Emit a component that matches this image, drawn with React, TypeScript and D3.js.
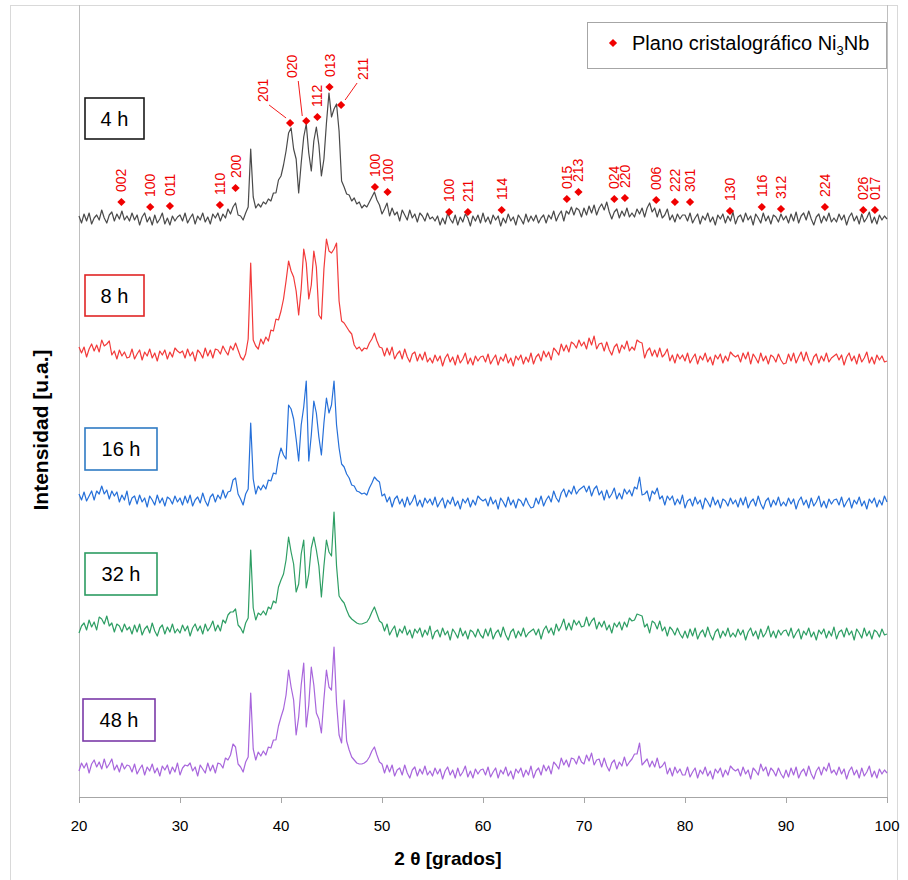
import React from 'react';
import * as d3 from 'd3';

// 2θ grid of the diffractograms (degrees)
const THETA_START = 20;
const THETA_STEP = 0.25;

const SERIES_LABELS = ['4 h', '8 h', '16 h', '32 h', '48 h'];
const SERIES_COLORS = ['#4a4a4a', '#f23a3a', '#2670d9', '#2e9e64', '#a866dc'];
const BOX_COLORS = ['#1a1a1a', '#e02525', '#2f7bc4', '#2c9c62', '#7b3aa8'];
// vertical stacking offset of each pattern (a.u.)
const SERIES_OFFSETS = [576, 436, 292, 161, 22];

// intensity above each pattern's base line, one value every 0.25° from 20° to 100°
const I_4H = [
  5, -2, 7, 0, 8, -3, 3, 6, 1, 11, 3, -2, 6, 9, 0, 7, 2, 10, 1, 5,
  0, 8, 1, 6, -4, 4, 8, -1, 4, -4, 6, -2, 2, 8, -3, 3, -4, 5, 0, 4,
  6, 0, 8, -2, 3, 7, -3, 5, 1, 8, -1, 4, -3, 7, 3, 8, 0, 7, 3, 12,
  7, 14, 18, 6, 5, 1, 8, 14, 72, 24, 13, 17, 14, 19, 17, 22, 20, 28, 28, 41,
  45, 56, 70, 88, 93, 72, 62, 28, 58, 84, 97, 68, 50, 80, 94, 76, 45, 62, 98, 128,
  104, 112, 117, 90, 40, 34, 27, 26, 20, 23, 17, 19, 13, 16, 14, 19, 24, 29, 21, 16,
  7, 12, 18, 5, 13, 6, 9, 0, 11, 6, 1, 11, 3, 7, -1, 8, 5, 0, 8, 2,
  4, 0, 5, -4, 3, -3, 8, 2, -2, 6, -4, 4, -1, 7, 3, -5, 5, 0, 6, -2,
  8, -1, 4, -3, 6, 1, 5, -5, 3, -2, 7, 0, 4, -4, 6, 2, -3, 7, -1, 5,
  0, 6, -2, 3, 6, -2, 6, 2, 10, 0, 6, 10, 0, 10, 7, 14, 6, 13, 11, 4,
  13, 6, 15, 8, 16, 6, 13, 17, 11, 19, 9, 2, 9, 12, 3, 10, 5, 13, 4, 8,
  4, 12, 7, 13, 4, 13, 18, 9, 13, 4, 12, 3, 6, 12, 1, 6, -1, 7, 2, 6,
  6, 0, 8, -2, 3, 7, -3, 5, 1, 8, -1, 4, -4, 6, 2, 7, -2, 5, 0, 9,
  -3, 4, 6, -1, 8, 1, 5, -4, 7, 3, -2, 8, 0, 5, -3, 6, 4, -1, 7, 1,
  5, -2, 7, 0, 9, -2, 5, 8, 1, 10, 2, -4, 4, 7, -2, 5, 0, 8, -1, 3,
  -1, 7, 1, 6, -4, 4, 8, 0, 5, -3, 7, -1, 3, 9, -2, 4, -3, 6, 1, 5,
  2,
];

const I_8H = [
  14, 8, 14, 4, 12, 17, 10, 16, 9, 21, 15, 17, 20, 6, 10, 2, 11, 5, 9, 3,
  4, 12, 2, 7, 11, 1, 9, 5, 12, 3, 8, 0, 10, 6, 11, 2, 9, 4, 13, 10,
  8, 10, 3, 12, 5, 9, 0, 11, 8, 3, 13, 5, 11, 3, 12, 11, 7, 15, 10, 6,
  15, 11, 18, 11, 4, 1, 7, 22, 98, 21, 15, 12, 22, 17, 24, 20, 31, 30, 42, 41,
  50, 62, 80, 100, 90, 84, 70, 46, 72, 112, 98, 62, 76, 110, 94, 46, 42, 92, 122, 110,
  108, 112, 118, 60, 40, 38, 34, 30, 27, 16, 12, 14, 10, 13, 12, 18, 22, 28, 20, 14,
  13, 5, 13, 6, 14, 2, 7, 10, 2, 12, 4, -1, 7, 9, 0, 7, 1, 9, -1, 3,
  -2, 6, 0, 5, -5, 3, 7, -1, 4, -4, 6, -2, 2, 8, -3, 3, -4, 5, 0, 4,
  5, -1, 7, -3, 2, 6, -4, 4, 0, 7, -2, 3, -5, 5, 1, 6, -3, 4, -1, 8,
  -3, 4, 7, 0, 10, 4, 9, 1, 13, 10, 6, 17, 10, 16, 9, 19, 17, 13, 21, 15,
  19, 12, 23, 16, 25, 12, 17, 18, 10, 19, 11, 6, 14, 17, 8, 16, 12, 20, 10, 14,
  11, 21, 19, 18, 3, 10, 13, 5, 11, 4, 13, 4, 7, 12, 0, 6, -2, 7, 2, 6,
  0, 8, -2, 3, 7, -3, 5, 1, 8, -1, 4, -4, 6, 2, 7, -2, 5, 0, 9, 6,
  4, 6, -1, 8, 2, 9, -3, 7, 3, -2, 8, 0, 5, -3, 6, 4, -1, 7, 1, -3,
  -2, 7, 0, 8, -2, 4, 9, 0, 9, 1, -4, 4, 7, -2, 5, 0, 8, -1, 3, 5,
  7, 1, 6, -4, 4, 8, 0, 5, -3, 7, -1, 3, 9, -2, 4, -3, 6, 1, 5, -1,
  0,
];

const I_16H = [
  11, 5, 13, 4, 9, 14, 5, 14, 11, 19, 11, 15, 6, 14, 9, 13, 3, 10, 5, 14,
  0, 7, 9, 1, 10, 3, 7, -2, 9, 5, 0, 10, 2, 7, -1, 8, 6, 1, 9, 3,
  7, 0, 9, 2, 10, -1, 5, 8, 2, 12, 4, -1, 8, 11, 3, 10, 6, 15, 7, 13,
  14, 25, 27, 11, 6, 0, 11, 16, 82, 26, 11, 19, 15, 20, 16, 25, 24, 32, 31, 47,
  57, 50, 46, 100, 96, 86, 66, 44, 80, 98, 124, 44, 70, 104, 92, 68, 50, 82, 107, 92,
  100, 124, 80, 57, 41, 38, 31, 27, 20, 19, 14, 13, 11, 12, 10, 17, 22, 28, 25, 23,
  9, 11, 3, 8, -2, 6, 9, 1, 6, -2, 8, 0, 4, 10, -1, 5, -2, 7, 2, 6,
  0, 8, -2, 3, 7, -3, 5, 1, 8, -1, 4, -4, 6, 2, 7, -2, 5, 0, 9, 6,
  4, 6, -1, 8, 1, 5, -4, 7, 3, -2, 8, 0, 5, -3, 6, 4, -1, 7, 1, -3,
  -2, 7, 1, 9, -1, 5, 9, 3, 14, 7, 3, 12, 16, 8, 15, 11, 19, 11, 15, 17,
  19, 13, 19, 9, 16, 19, 10, 14, 5, 15, 7, 11, 17, 6, 12, 6, 16, 11, 15, 9,
  18, 16, 28, 10, 11, 14, 4, 14, 11, 17, 6, 9, 0, 9, 5, 9, 0, 6, 1, 10,
  -3, 4, 6, -1, 8, 1, 5, -4, 7, 3, -2, 8, 0, 5, -3, 6, 4, -1, 7, 1,
  5, -2, 7, 0, 8, -3, 3, 6, -1, 9, 1, -4, 4, 7, -2, 5, 0, 8, -1, 3,
  -1, 7, 1, 6, -4, 4, 8, 0, 5, -3, 7, -1, 3, 9, -2, 4, -3, 6, 1, 5,
  6, 0, 8, -2, 3, 7, -3, 5, 1, 8, -1, 4, -4, 6, 2, 7, -2, 5, 0, 9,
  3,
];

const I_32H = [
  3, 10, 13, 6, 16, 9, 14, 6, 19, 17, 12, 20, 10, 13, 4, 12, 10, 4, 12, 6,
  9, 2, 11, 4, 12, 1, 7, 10, 3, 13, 5, 0, 8, 11, 2, 9, 4, 12, 3, 7,
  3, 11, 5, 10, 0, 8, 12, 5, 10, 2, 12, 5, 9, 15, 5, 11, 5, 16, 13, 21,
  24, 24, 27, 11, 8, 3, 13, 18, 86, 28, 16, 23, 21, 25, 21, 29, 27, 35, 33, 49,
  56, 62, 76, 99, 84, 72, 44, 52, 82, 96, 48, 62, 88, 99, 86, 70, 39, 70, 96, 84,
  80, 124, 70, 40, 36, 33, 26, 20, 17, 15, 13, 12, 12, 13, 14, 18, 24, 29, 22, 15,
  13, 5, 12, 1, 6, 10, -1, 7, 3, 10, 1, 6, -2, 7, 3, 8, -1, 6, 1, 10,
  -3, 4, 6, -1, 8, 1, 5, -4, 7, 3, -2, 8, 0, 5, -3, 6, 4, -1, 7, 1,
  -2, 7, 0, 8, -3, 3, 6, -1, 9, 1, -4, 4, 7, -2, 5, 0, 8, -1, 3, 5,
  7, 1, 7, -3, 6, 10, 3, 8, 1, 12, 5, 10, 17, 6, 13, 6, 16, 11, 15, 9,
  10, 19, 10, 15, 18, 7, 14, 9, 15, 6, 11, 3, 13, 9, 14, 6, 14, 9, 18, 15,
  16, 22, 21, 20, 9, 12, 3, 15, 13, 7, 15, 5, 9, 0, 9, 6, 1, 8, 2, -2,
  5, -2, 7, 0, 8, -3, 3, 6, -1, 9, 1, -4, 4, 7, -2, 5, 0, 8, -1, 3,
  -1, 7, 1, 6, -4, 4, 8, 0, 5, -3, 7, -1, 3, 10, -1, 5, -2, 6, 1, 5,
  6, 0, 8, -2, 3, 7, -3, 5, 1, 8, -1, 4, -4, 6, 2, 7, -2, 5, 0, 9,
  -3, 4, 6, -1, 8, 1, 5, -4, 7, 3, -2, 8, 0, 5, -3, 6, 4, -1, 7, 1,
  2,
];

const I_48H = [
  4, 12, 7, 12, 2, 11, 15, 8, 13, 6, 16, 7, 11, 16, 5, 10, 3, 12, 6, 10,
  9, 3, 11, 1, 6, 10, 0, 8, 4, 11, 2, 7, -1, 9, 5, 10, 1, 8, 3, 12,
  0, 7, 10, 9, 12, 4, 8, -1, 10, 6, 2, 12, 4, 10, 2, 12, 11, 7, 17, 15,
  20, 31, 28, 11, 8, 3, 13, 18, 82, 26, 15, 23, 19, 24, 20, 28, 27, 35, 35, 49,
  58, 66, 80, 105, 88, 75, 40, 58, 90, 112, 48, 70, 108, 90, 62, 56, 42, 76, 105, 88,
  85, 128, 72, 40, 32, 75, 34, 25, 18, 15, 12, 11, 11, 12, 14, 18, 24, 28, 20, 13,
  11, 2, 10, 3, 10, -1, 5, 7, 0, 10, 2, -3, 5, 8, -1, 6, 1, 9, 0, 4,
  -1, 7, 1, 6, -4, 4, 8, 0, 5, -3, 7, -1, 3, 9, -2, 4, -3, 6, 1, 5,
  6, 0, 8, -2, 3, 7, -3, 5, 1, 8, -1, 4, -4, 6, 2, 7, -2, 5, 0, 9,
  -3, 4, 7, 0, 10, 4, 9, 1, 13, 10, 6, 17, 10, 15, 8, 17, 16, 11, 19, 13,
  11, 20, 14, 22, 10, 15, 16, 8, 17, 9, 4, 12, 15, 6, 13, 9, 18, 9, 13, 16,
  21, 21, 32, 10, 13, 16, 8, 14, 8, 17, 7, 9, 13, 1, 7, -1, 8, 2, 6, 0,
  0, 8, -2, 3, 7, -3, 5, 1, 8, -1, 4, -4, 6, 2, 7, -2, 5, 0, 9, 6,
  4, 6, -1, 8, 1, 5, -4, 7, 4, 0, 11, 4, 8, -1, 7, 4, -1, 7, 1, -3,
  5, -2, 7, 0, 8, -3, 3, 6, -1, 9, 1, -4, 4, 8, 0, 8, 4, 12, 2, 5,
  0, 8, 1, 6, -4, 4, 8, 0, 5, -3, 7, -1, 3, 9, -2, 4, -3, 6, 1, 5,
  2,
];

const SERIES = [I_4H, I_8H, I_16H, I_32H, I_48H];

// Ni3Nb crystallographic planes marked on the 4 h pattern
const PLANE_LABELS = ['002', '100', '011', '110', '200', '201', '020', '112', '013', '211', '100', '100', '100', '211', '114', '015', '213', '024', '220', '006', '222', '301', '130', '116', '312', '224', '026', '017'];
const PLANE_THETA = [24.2, 27.05, 29.0, 33.95, 35.5, 40.9, 42.5, 43.6, 44.8, 45.95, 49.3, 50.55, 56.65, 58.5, 61.85, 68.3, 69.45, 73.0, 74.05, 77.15, 79.0, 80.5, 84.45, 87.6, 89.5, 93.85, 97.65, 98.8];
const PLANE_HEIGHT = [19, 14, 15, 16, 33, 98, 100, 104, 134, 116, 34, 29, 9, 9, 11, 22, 29, 22, 23, 21, 19, 19, 10, 14, 12, 14, 11, 11];

const X_TICKS = [20, 30, 40, 50, 60, 70, 80, 90, 100];

// layout
const W = 908;
const H = 880;
const PLOT = { left: 79, right: 887, top: 5, bottom: 797 };
const BOXES = [
  { x: 85, y: 98, w: 59, h: 41 },
  { x: 85, y: 275, w: 59, h: 41 },
  { x: 85, y: 428, w: 72, h: 42 },
  { x: 85, y: 553, w: 72, h: 42 },
  { x: 83, y: 699, w: 72, h: 42 },
];
// labels moved away from their marker, drawn with a leader line
const LEADERS: Record<number, { dx: number; dy: number }> = {
  5: { dx: -27, dy: -21 },
  6: { dx: -14, dy: -43 },
  9: { dx: 22, dy: -25 },
};

const FONT = '"Liberation Sans", Arial, sans-serif';
const RED = '#f00000';

export default function App() {
  const x = d3.scaleLinear().domain([20, 100]).range([PLOT.left, PLOT.right]);
  const y = d3.scaleLinear().domain([0, 792]).range([PLOT.bottom, PLOT.top]);

  const diamond = d3.symbol(d3.symbolSquare, 34)() as string;

  const paths = SERIES.map((vals, s) =>
    d3
      .line<number>()
      .x((_, i) => x(THETA_START + i * THETA_STEP))
      .y((d) => y(d + SERIES_OFFSETS[s]))(vals) as string
  );

  return (
    <svg
      width={W}
      height={H}
      style={{ position: 'absolute', left: 0, top: 0, background: '#fff' }}
      fontFamily={FONT}
    >
      <rect x={10.5} y={5.5} width={887} height={890} fill="#fff" stroke="#d9d9d9" />

      {/* plot frame */}
      <line x1={PLOT.left + 0.5} x2={PLOT.left + 0.5} y1={PLOT.top} y2={PLOT.bottom} stroke="#bfbfbf" />
      <line x1={PLOT.right + 0.5} x2={PLOT.right + 0.5} y1={PLOT.top} y2={PLOT.bottom} stroke="#bfbfbf" />
      <line x1={PLOT.left} x2={PLOT.right + 1} y1={PLOT.bottom + 0.5} y2={PLOT.bottom + 0.5} stroke="#a6a6a6" />
      {X_TICKS.map((t) => (
        <g key={t}>
          <line x1={x(t) + 0.5} x2={x(t) + 0.5} y1={PLOT.bottom} y2={PLOT.bottom + 6} stroke="#a6a6a6" />
          <text x={x(t)} y={PLOT.bottom + 34} textAnchor="middle" fontSize={15} fill="#000">
            {t}
          </text>
        </g>
      ))}

      {/* patterns */}
      {paths.map((p, s) => (
        <path key={s} d={p} fill="none" stroke={SERIES_COLORS[s]} strokeWidth={1.2} strokeLinejoin="round" />
      ))}

      {/* series boxes */}
      {BOXES.map((b, s) => (
        <g key={s}>
          <rect x={b.x} y={b.y} width={b.w} height={b.h} fill="#fff" stroke={BOX_COLORS[s]} strokeWidth={1.6} />
          <text x={b.x + b.w / 2} y={b.y + b.h / 2 + 7} textAnchor="middle" fontSize={20} fill="#000">
            {SERIES_LABELS[s]}
          </text>
        </g>
      ))}

      {/* plane markers */}
      {PLANE_LABELS.map((lab, i) => {
        const px = x(PLANE_THETA[i]);
        const py = y(PLANE_HEIGHT[i] + SERIES_OFFSETS[0]);
        const lead = LEADERS[i];
        const lx = lead ? px + lead.dx : px;
        const ly = lead ? py + lead.dy : py - 10;
        const side = lead ? (lead.dx < 0 ? 1 : -1) : 0;
        return (
          <g key={i}>
            {lead && (
              <line
                x1={lx + side * 6}
                y1={ly + 3}
                x2={px - side * 4}
                y2={py - 5}
                stroke={RED}
                strokeWidth={0.9}
              />
            )}
            <path d={diamond} transform={`translate(${px},${py}) rotate(45)`} fill={RED} />
            <text
              transform={`translate(${lx},${ly}) rotate(-90)`}
              dy="0.36em"
              fontSize={14}
              fill={RED}
            >
              {lab}
            </text>
          </g>
        );
      })}

      {/* legend */}
      <rect x={587.5} y={22.5} width={299} height={46} fill="#fff" stroke="#a6a6a6" />
      <path d={diamond} transform="translate(613,43) rotate(45)" fill={RED} />
      <text x={632} y={50} fontSize={20} fill="#000">
        Plano cristalográfico Ni
        <tspan fontSize={13} dy={5}>3</tspan>
        <tspan dy={-5}>Nb</tspan>
      </text>

      {/* axis titles */}
      <text x={448} y={865} textAnchor="middle" fontSize={19} fontWeight="bold" fill="#000">
        2 θ [grados]
      </text>
      <text
        transform="translate(40,430) rotate(-90)"
        dy="0.36em"
        textAnchor="middle"
        fontSize={21}
        fontWeight="bold"
        fill="#000"
      >
        Intensidad [u.a.]
      </text>
    </svg>
  );
}
